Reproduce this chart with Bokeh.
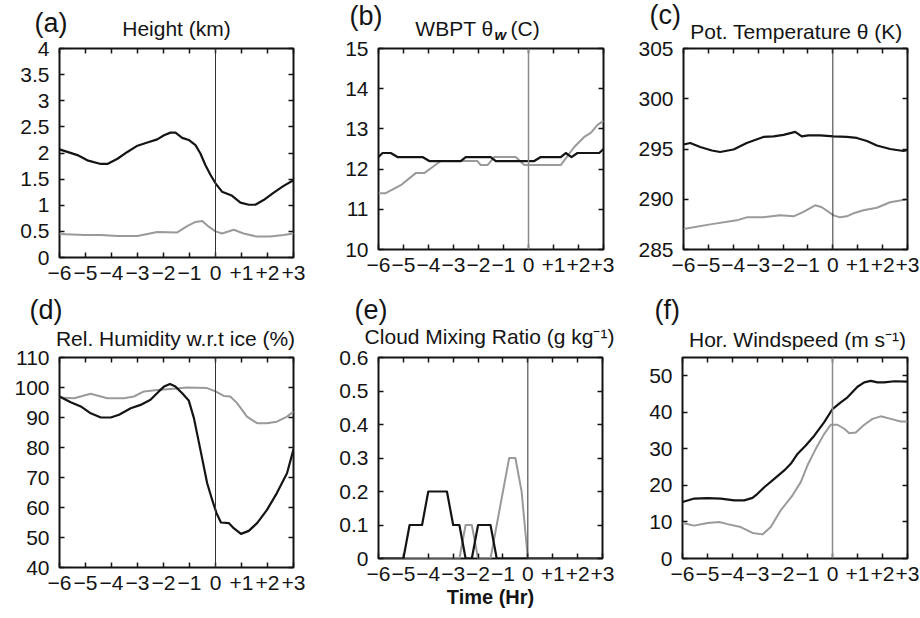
from bokeh.plotting import figure
from bokeh.models import Range1d, FixedTicker, LinearAxis, Span
from bokeh.layouts import column, row
from bokeh.core.properties import value
from bokeh.embed import file_html
from bokeh.resources import INLINE

FONT = "Liberation Sans"
INK = "#141414"
GRAY = "#9a9a9a"

# ---------------- data ----------------
hours = [-6, -5, -4, -3, -2, -1, 0, 1, 2, 3]
hour_labels = ["\u22126", "\u22125", "\u22124", "\u22123", "\u22122", "\u22121", "0", "+1", "+2", "+3"]

a_black_t = [-6, -5.31, -4.93, -4.41, -4.16, -3.77, -3.39, -3.0, -2.62, -2.24, -1.98, -1.73, -1.54, -1.28, -1.03,
             -0.77, -0.58, -0.39, -0.19, 0, 0.25, 0.45, 0.64, 0.96, 1.28, 1.53, 1.85, 2.24, 2.62, 3.0]
a_black_v = [2.07, 1.96, 1.86, 1.79, 1.79, 1.89, 2.02, 2.14, 2.20, 2.26, 2.34, 2.39, 2.39, 2.29, 2.25,
             2.15, 1.99, 1.77, 1.58, 1.42, 1.26, 1.22, 1.18, 1.05, 1.01, 1.01, 1.10, 1.24, 1.37, 1.48]
a_gray_t = [-6, -5.05, -4.41, -3.77, -3.0, -2.24, -1.47, -1.09, -0.77, -0.51, -0.26, 0, 0.25, 0.70, 1.08, 1.59,
            2.1, 2.62, 3.0]
a_gray_v = [0.45, 0.43, 0.43, 0.41, 0.41, 0.49, 0.48, 0.60, 0.68, 0.70, 0.59, 0.50, 0.46, 0.53, 0.46, 0.40,
            0.40, 0.43, 0.46]
a_yticks = [0, 0.5, 1, 1.5, 2, 2.5, 3, 3.5, 4]
a_ylabels = ["0", "0.5", "1", "1.5", "2", "2.5", "3", "3.5", "4"]

b_black_t = [-6, -5.84, -5.51, -5.24, -4.24, -3.97, -2.71, -2.51, -1.51, -1.31, 0.23, 0.49, 1.29, 1.49, 1.72,
             1.96, 2.83, 3.0]
b_black_v = [12.3, 12.4, 12.4, 12.3, 12.3, 12.2, 12.2, 12.3, 12.3, 12.2, 12.2, 12.3, 12.3, 12.4, 12.3,
             12.4, 12.4, 12.5]
b_gray_t = [-6, -5.71, -5.11, -4.51, -4.17, -3.51, -2.04, -1.91, -1.64, -1.37, -0.51, -0.17, 1.29, 1.83, 2.23,
            2.49, 2.76, 3.0]
b_gray_v = [11.4, 11.4, 11.6, 11.9, 11.9, 12.2, 12.2, 12.1, 12.1, 12.3, 12.3, 12.1, 12.1, 12.55, 12.8,
            12.9, 13.1, 13.2]
b_yticks = [10, 11, 12, 13, 14, 15]
b_ylabels = ["10", "11", "12", "13", "14", "15"]

c_black_t = [-6, -5.73, -5.33, -4.86, -4.53, -3.99, -3.46, -2.79, -2.38, -1.98, -1.51, -1.25, -0.98, -0.51,
             0.03, 0.56, 0.96, 1.37, 1.77, 2.30, 2.84, 3.0]
c_black_v = [295.45, 295.6, 295.2, 294.85, 294.7, 294.95, 295.6, 296.2, 296.25, 296.4, 296.7, 296.25, 296.35,
             296.35, 296.25, 296.2, 296.1, 295.8, 295.35, 295.0, 294.8, 294.9]
c_gray_t = [-6, -4.93, -3.86, -3.46, -2.79, -2.12, -1.58, -1.18, -0.71, -0.44, 0.03, 0.29, 0.56, 0.83, 1.23,
            1.77, 2.30, 3.0]
c_gray_v = [287.05, 287.5, 287.9, 288.2, 288.2, 288.4, 288.3, 288.75, 289.4, 289.2, 288.4, 288.2, 288.3,
            288.6, 288.9, 289.15, 289.7, 290.0]
c_yticks = [285, 290, 295, 300, 305]
c_ylabels = ["285", "290", "295", "300", "305"]

d_black_t = [-6, -5.57, -5.18, -4.80, -4.41, -4.03, -3.71, -3.26, -2.88, -2.50, -2.18, -1.98, -1.75, -1.54,
             -1.28, -1.03, -0.83, -0.58, -0.32, -0.13, 0.04, 0.21, 0.51, 0.70, 0.98, 1.28, 1.60, 1.98, 2.36,
             2.75, 3.0]
d_black_v = [97.0, 95.1, 93.7, 91.4, 90.0, 90.0, 90.9, 93.1, 94.2, 95.9, 98.7, 100.3, 101.2, 100.3,
             98.1, 95.7, 89.8, 79.2, 68.1, 62.6, 58.1, 55.0, 54.8, 53.1, 51.2, 52.2, 54.8, 59.2, 64.8,
             71.4, 79.4]
d_gray_t = [-6, -5.44, -4.80, -4.16, -3.52, -3.14, -2.75, -2.24, -1.60, -1.09, -0.32, 0.0, 0.32, 0.57, 0.83,
            1.21, 1.60, 1.98, 2.36, 2.75, 3.0]
d_gray_v = [96.7, 96.4, 97.9, 96.4, 96.4, 97.0, 98.7, 99.2, 99.6, 100.0, 99.8, 98.7, 97.2, 97.0, 94.8,
            90.3, 88.1, 88.1, 88.6, 90.3, 92.0]
d_yticks = [40, 50, 60, 70, 80, 90, 100, 110]
d_ylabels = ["40", "50", "60", "70", "80", "90", "100", "110"]

e_black_t = [-6, -5.0, -4.75, -4.25, -4.0, -3.25, -3.0, -2.75, -2.5, -2.25, -2.0, -1.5, -1.25, 3.0]
e_black_v = [0, 0, 0.1, 0.1, 0.2, 0.2, 0.1, 0.1, 0, 0, 0.1, 0.1, 0, 0]
e_gray_t = [-6, -2.75, -2.5, -2.25, -2.0, -1.5, -0.75, -0.5, -0.25, 0.0, 3.0]
e_gray_v = [0, 0, 0.1, 0.1, 0, 0, 0.3, 0.3, 0.2, 0, 0]
e_yticks = [0, 0.1, 0.2, 0.3, 0.4, 0.5, 0.6]
e_ylabels = ["0", "0.1", "0.2", "0.3", "0.4", "0.5", "0.6"]
x_title = "Time (Hr)"

f_black_t = [-6, -5.53, -5.0, -4.47, -3.93, -3.53, -3.2, -3.0, -2.73, -2.33, -1.93, -1.67, -1.4, -1.07, -0.73,
             -0.33, 0.0, 0.33, 0.6, 1.0, 1.27, 1.53, 1.8, 2.07, 2.47, 3.0]
f_black_v = [15.45, 16.4, 16.5, 16.4, 15.9, 15.9, 16.6, 17.7, 19.5, 21.8, 24.1, 25.9, 28.6, 30.9, 33.6,
             37.3, 40.9, 42.7, 44.1, 47.0, 48.2, 48.6, 48.2, 48.2, 48.5, 48.4]
f_gray_t = [-6, -5.53, -5.0, -4.53, -4.2, -3.67, -3.2, -2.8, -2.47, -2.07, -1.6, -1.27, -1.0, -0.67, -0.33,
            -0.07, 0.2, 0.47, 0.67, 0.93, 1.27, 1.6, 1.93, 2.33, 2.73, 3.0]
f_gray_v = [9.7, 9.0, 9.7, 10.0, 9.4, 8.6, 7.0, 6.6, 8.6, 13.2, 17.3, 20.9, 25.5, 30.0, 34.1,
            36.6, 36.6, 35.5, 34.3, 34.5, 36.6, 38.2, 38.9, 38.2, 37.5, 37.5]
f_yticks = [0, 10, 20, 30, 40, 50]
f_ylabels = ["0", "10", "20", "30", "40", "50"]

letters_top = ["(a)", "(b)", "(c)"]
letters_bottom = ["(d)", "(e)", "(f)"]
titles_top = ["Height (km)", "Pot. Temperature \u03b8 (K)"]
title_b = ["WBPT \u03b8", "w", "(C)"]
titles_bottom = ["Rel. Humidity w.r.t ice (%)", "Cloud Mixing Ratio (g kg\u207b\u00b9)",
                 "Hor. Windspeed (m s\u207b\u00b9)"]

PAGE_W = 920
SHIFT = 0.35      # rendered baseline sits ~0.35 em below the given y
OVERLAP = 12      # panel rows slide up under the header by this many px


def make_panel(yr, yticks, ylabels, fw, fh, bl, br, bt, bb, xstandoff=8):
    p = figure(x_range=Range1d(-6, 3), y_range=Range1d(*yr),
               frame_width=fw, frame_height=fh,
               min_border_left=bl, min_border_right=br, min_border_top=bt, min_border_bottom=bb,
               toolbar_location=None, tools="", output_backend="svg")
    p.grid.visible = False
    p.outline_line_color = INK
    p.outline_line_width = 2
    p.background_fill_color = "white"
    p.border_fill_color = None

    def style(ax, ticks, labels, show, size, standoff):
        ax.ticker = FixedTicker(ticks=ticks)
        ax.axis_line_color = None
        ax.major_tick_in = 5
        ax.major_tick_out = 0
        ax.major_tick_line_color = INK
        ax.major_tick_line_width = 1.5
        ax.minor_tick_line_color = None
        if show:
            ax.major_label_overrides = {t: l for t, l in zip(ticks, labels)}
            ax.major_label_text_font = FONT
            ax.major_label_text_color = INK
            ax.major_label_text_font_size = size
            ax.major_label_standoff = standoff
        else:
            ax.major_label_text_color = None
            ax.major_label_text_font_size = "0px"
            ax.major_label_standoff = 0

    style(p.below[0], hours, hour_labels, True, "21px", xstandoff)
    style(p.left[0], yticks, ylabels, True, "21px", 10)
    top = LinearAxis()
    right = LinearAxis()
    style(top, hours, hour_labels, False, "0px", 0)
    style(right, yticks, ylabels, False, "0px", 0)
    p.add_layout(top, "above")
    p.add_layout(right, "right")
    return p


def draw(p, bt, bv, gt, gv, vcolor, vwidth):
    p.add_layout(Span(location=0, dimension="height", line_color=vcolor, line_width=vwidth))
    p.line(gt, gv, line_color=GRAY, line_width=2, line_join="round")
    p.line(bt, bv, line_color=INK, line_width=2.2, line_join="round")


def header(height):
    h = figure(x_range=Range1d(0, PAGE_W), y_range=Range1d(height, 0),
               frame_width=PAGE_W, frame_height=height,
               min_border_left=0, min_border_right=0, min_border_top=0, min_border_bottom=0,
               x_axis_location=None, y_axis_location=None,
               toolbar_location=None, tools="", output_backend="svg",
               margin=(0, 0, -OVERLAP, 0))
    h.grid.visible = False
    h.outline_line_color = None
    return h


def put(h, xs, baselines, texts, size, align, style="normal"):
    ys = [b - SHIFT * size for b in baselines]
    h.text(x=xs, y=ys, text=texts, text_font=value(FONT), text_font_size=value(f"{size}px"),
           text_align=align, text_baseline="alphabetic", text_font_style=style, text_color=INK)


# header above the top row (page y 0..44)
h1 = header(44)
put(h1, [34, 349, 649], [32, 25, 24], letters_top, 27, "left")
put(h1, [176, 796], [35, 38], titles_top, 21, "center")
put(h1, [493], [35], title_b[:1], 21, "right")
put(h1, [494], [39], title_b[1:2], 15, "left", "bold italic")
put(h1, [510], [35], title_b[2:], 21, "left")

# header above the bottom row (page y 292..350)
h2 = header(58)
put(h2, [29, 354, 654], [27, 27, 27], letters_bottom, 27, "left")
put(h2, [175, 489, 797], [53, 51, 54], titles_bottom, 21, "center")

# top row: page y 32..292 (frames at 47 / 48)
pa = make_panel((0, 4), a_yticks, a_ylabels, 234, 209, 59, 25, 3 + OVERLAP, 36)
draw(pa, a_black_t, a_black_v, a_gray_t, a_gray_v, "#333333", 1)
pb = make_panel((10, 15), b_yticks, b_ylabels, 225, 201, 60, 11, 4 + OVERLAP, 43)
draw(pb, b_black_t, b_black_v, b_gray_t, b_gray_v, "#8a8a8a", 1.5)
pc = make_panel((285, 305), c_yticks, c_ylabels, 224, 201, 69, 13, 4 + OVERLAP, 43)
draw(pc, c_black_t, c_black_v, c_gray_t, c_gray_v, "#333333", 1)

# bottom row: page y 338..618 (frames at 354 / 357)
pd = make_panel((40, 110), d_yticks, d_ylabels, 234, 210, 59, 25, 4 + OVERLAP, 54)
draw(pd, d_black_t, d_black_v, d_gray_t, d_gray_v, "#333333", 1)
pe = make_panel((0, 0.6), e_yticks, e_ylabels, 224, 201, 60, 12, 7 + OVERLAP, 60)
draw(pe, e_black_t, e_black_v, e_gray_t, e_gray_v, "#333333", 1)
xa = pe.below[0]
xa.axis_label = x_title
xa.axis_label_standoff = 2
xa.axis_label_text_font = FONT
xa.axis_label_text_font_size = "20px"
xa.axis_label_text_font_style = "bold"
xa.axis_label_text_color = INK
pf = make_panel((0, 55), f_yticks, f_ylabels, 225, 201, 68, 13, 7 + OVERLAP, 60)
draw(pf, f_black_t, f_black_v, f_gray_t, f_gray_v, "#8a8a8a", 1.5)

layout = column(h1, row(pa, pb, pc), h2, row(pd, pe, pf))
open("out.html", "w").write(file_html(layout, INLINE))
